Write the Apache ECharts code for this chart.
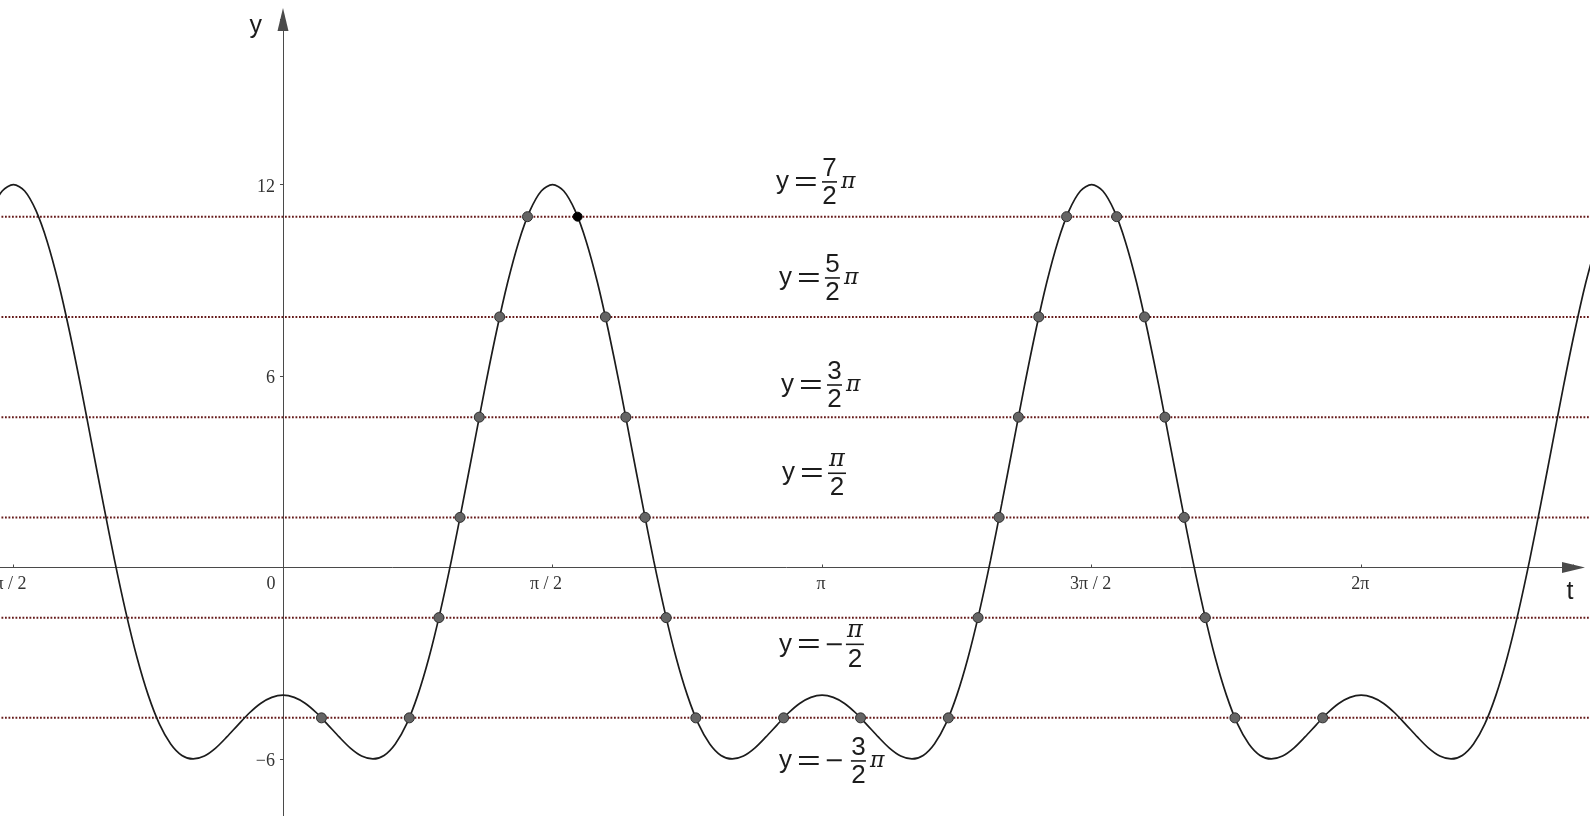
<!DOCTYPE html>
<html>
<head>
<meta charset="utf-8">
<script src="https://cdn.jsdelivr.net/npm/echarts@6/dist/echarts.min.js"></script>
<style>
html, body { margin: 0; padding: 0; background: #ffffff; }
#chart { width: 1590px; height: 816px; }
</style>
</head>
<body>
<div id="chart"></div>
<script>
// ---------- data ----------
// sampled curve (t in radians) and its values
const curveT = [
  -1.7017, -1.6362, -1.5708, -1.5053, -1.4399, -1.3744, -1.3090, -1.2435, -1.1781, -1.1126, -1.0472, -0.9817, -0.9163,
  -0.8508, -0.7854, -0.7199, -0.6545, -0.5890, -0.5236, -0.4581, -0.3927, -0.3272, -0.2618, -0.1963, -0.1309, -0.0654,
  0, 0.0654, 0.1309, 0.1963, 0.2618, 0.3272, 0.3927, 0.4581, 0.5236, 0.5890, 0.6545, 0.7199, 0.7854, 0.8508, 0.9163, 0.9817,
  1.0472, 1.1126, 1.1781, 1.2435, 1.3090, 1.3744, 1.4399, 1.5053, 1.5708, 1.6362, 1.7017, 1.7671, 1.8326, 1.8980, 1.9635, 2.0289,
  2.0944, 2.1598, 2.2253, 2.2907, 2.3562, 2.4216, 2.4871, 2.5525, 2.6180, 2.6834, 2.7489, 2.8143, 2.8798, 2.9452, 3.0107, 3.0761,
  3.1416, 3.2070, 3.2725, 3.3379, 3.4034, 3.4688, 3.5343, 3.5997, 3.6652, 3.7306, 3.7961, 3.8615, 3.9270, 3.9924, 4.0579, 4.1233,
  4.1888, 4.2542, 4.3197, 4.3851, 4.4506, 4.5160, 4.5815, 4.6469, 4.7124, 4.7778, 4.8433, 4.9087, 4.9742, 5.0396, 5.1051, 5.1705,
  5.2360, 5.3014, 5.3669, 5.4323, 5.4978, 5.5632, 5.6287, 5.6941, 5.7596, 5.8250, 5.8905, 5.9559, 6.0214, 6.0868, 6.1523, 6.2177,
  6.2832, 6.3486, 6.4141, 6.4795, 6.5450, 6.6104, 6.6759, 6.7413, 6.8068, 6.8722, 6.9377, 7.0031, 7.0686, 7.1340, 7.1995, 7.2649,
  7.3304, 7.3958, 7.4613, 7.5267, 7.5922, 7.6576
];
const curveY = [
  11.19, 11.80, 12, 11.80, 11.19, 10.22, 8.93, 7.38, 5.66, 3.83, 2, 0.23, -1.39,
  -2.82, -4, -4.91, -5.53, -5.89, -6, -5.91, -5.66, -5.31, -4.93, -4.56, -4.26, -4.07,
  -4, -4.07, -4.26, -4.56, -4.93, -5.31, -5.66, -5.91, -6, -5.89, -5.53, -4.91, -4, -2.82, -1.39, 0.23,
  2, 3.83, 5.66, 7.38, 8.93, 10.22, 11.19, 11.80, 12, 11.80, 11.19, 10.22, 8.93, 7.38, 5.66, 3.83,
  2, 0.23, -1.39, -2.82, -4, -4.91, -5.53, -5.89, -6, -5.91, -5.66, -5.31, -4.93, -4.56, -4.26, -4.07,
  -4, -4.07, -4.26, -4.56, -4.93, -5.31, -5.66, -5.91, -6, -5.89, -5.53, -4.91, -4, -2.82, -1.39, 0.23,
  2, 3.83, 5.66, 7.38, 8.93, 10.22, 11.19, 11.80, 12, 11.80, 11.19, 10.22, 8.93, 7.38, 5.66, 3.83,
  2, 0.23, -1.39, -2.82, -4, -4.91, -5.53, -5.89, -6, -5.91, -5.66, -5.31, -4.93, -4.56, -4.26, -4.07,
  -4, -4.07, -4.26, -4.56, -4.93, -5.31, -5.66, -5.91, -6, -5.89, -5.53, -4.91, -4, -2.82, -1.39, 0.23,
  2, 3.83, 5.66, 7.38, 8.93, 10.22
];
// horizontal dotted lines y = 7π/2, 5π/2, 3π/2, π/2, -π/2, -3π/2
const levels = [10.9956, 7.8540, 4.7124, 1.5708, -1.5708, -4.7124];
const levelSpanT = [-1.7017, 7.7231];
// marked intersection points (t values) on each level
const crossingsT = [
  [1.4248, 4.5664, 4.8584],
  [1.2626, 1.8790, 4.4042, 5.0206],
  [1.1439, 1.9977, 4.2855, 5.1393],
  [1.0316, 2.1100, 4.1732, 5.2515],
  [0.9087, 2.2329, 4.0503, 5.3745],
  [0.2242, 0.7359, 2.4057, 2.9174, 3.3657, 3.8775, 5.5473, 6.0590]
];
const selectedPoint = [1.7168, 10.9956];
// equation labels
const labelSign = ['', '', '', '', '−', '−'];
const labelNum = ['7', '5', '3', 'π', 'π', '3'];
const labelDen = ['2', '2', '2', '2', '2', '2'];
const labelPi = [true, true, true, false, false, true];
const labelT = [2.873, 2.890, 2.902, 2.908, 2.890, 2.890];
const labelY = [12.085, 9.075, 5.720, 2.954, -2.408, -6.062];
// tick labels
const xTickValues = [-1.5708, 0, 1.5708, 3.1416, 4.7124, 6.2832];
const xTickTexts = ['−π / 2', '0', 'π / 2', 'π', '3π / 2', '2π'];
const yTickValues = [12, 6, -6];
const yTickTexts = ['12', '6', '−6'];

// ---------- chart ----------
const HALF_PI = Math.PI / 2;
const axisColor = '#4a4a4a';
const ink = '#1c1c1c';
const tickFont = 'Liberation Serif';
const chart = echarts.init(document.getElementById('chart'), null, { renderer: 'canvas' });

const series = [];
levels.forEach(function (lv) {
  series.push({
    type: 'line', data: [[levelSpanT[0], lv], [levelSpanT[1], lv]],
    symbol: 'none', silent: true, z: 1,
    lineStyle: { color: '#661a1a', width: 2, type: [1.8, 1.7] }
  });
});
series.push({
  type: 'line', data: curveT.map(function (t, i) { return [t, curveY[i]]; }),
  symbol: 'none', smooth: 0.3, silent: true, z: 2,
  lineStyle: { color: ink, width: 1.7 }
});
const dotData = [];
crossingsT.forEach(function (arr, i) { arr.forEach(function (t) { dotData.push([t, levels[i]]); }); });
series.push({
  type: 'scatter', data: dotData, symbol: 'circle', symbolSize: 10, z: 3, silent: true,
  itemStyle: { color: '#656565', borderColor: '#2e2e2e', borderWidth: 1, opacity: 1 }
});
series.push({
  type: 'scatter', data: [selectedPoint], symbol: 'circle', symbolSize: 9, z: 4, silent: true,
  itemStyle: { color: '#000000', borderColor: '#000000', borderWidth: 1, opacity: 1 }
});
// equation labels "y = a/b π"
series.push({
  type: 'custom', z: 5, silent: true,
  data: labelT.map(function (t, i) { return [t, labelY[i], i]; }),
  renderItem: function (params, api) {
    const i = api.value(2);
    const p = api.coord([api.value(0), api.value(1)]);
    const x0 = p[0], yb = p[1];
    const neg = labelSign[i] !== '';
    const piNum = labelNum[i] === 'π';
    const barStart = x0 + (neg ? (piNum ? 67 : 72) : 46);
    const barW = piNum ? 18 : 15;
    const cx = barStart + barW / 2;
    const children = [
      { type: 'text', x: x0, y: yb, style: { text: 'y', fill: ink, fontSize: 26, fontFamily: 'Liberation Sans', align: 'left', verticalAlign: 'middle' } },
      { type: 'text', x: x0 + 18, y: yb + 1, scaleX: 1.45, style: { text: '=', fill: ink, fontSize: 28, fontFamily: 'Liberation Sans', align: 'left', verticalAlign: 'middle' } },
      { type: 'line', shape: { x1: barStart, y1: yb, x2: barStart + barW, y2: yb }, style: { stroke: ink, lineWidth: 1.6 } },
      { type: 'text', x: cx, y: yb + 15, style: { text: labelDen[i], fill: ink, fontSize: 26, fontFamily: 'Liberation Sans', align: 'center', verticalAlign: 'middle' } }
    ];
    if (neg) {
      children.push({ type: 'text', x: x0 + 45, y: yb + 1, style: { text: labelSign[i], fill: ink, fontSize: 24, fontFamily: 'DejaVu Sans', align: 'left', verticalAlign: 'middle' } });
    }
    if (piNum) {
      children.push({ type: 'text', x: cx, y: yb - 13.5, style: { text: 'π', fill: ink, fontSize: 24, fontStyle: 'italic', fontFamily: 'DejaVu Serif', align: 'center', verticalAlign: 'middle' } });
    } else {
      children.push({ type: 'text', x: cx, y: yb - 13, style: { text: labelNum[i], fill: ink, fontSize: 26, fontFamily: 'Liberation Sans', align: 'center', verticalAlign: 'middle' } });
    }
    if (labelPi[i]) {
      children.push({ type: 'text', x: barStart + barW + 4, y: yb + 0.5, style: { text: 'π', fill: ink, fontSize: 22, fontStyle: 'italic', fontFamily: 'DejaVu Serif', align: 'left', verticalAlign: 'middle' } });
    }
    return { type: 'group', children: children };
  }
});
// x tick labels
series.push({
  type: 'custom', z: 6, silent: true,
  data: xTickValues.map(function (v, i) { return [v, 0, i]; }),
  renderItem: function (params, api) {
    const i = api.value(2);
    const p = api.coord([api.value(0), api.value(1)]);
    const k = Math.round(api.value(0) / HALF_PI);
    const dx = k === 0 ? -12 : (k === 1 ? -6.5 : (k === -1 ? -8 : -1));
    return { type: 'text', x: p[0] + dx, y: p[1] + 8, style: { text: xTickTexts[i], fill: '#333333', fontSize: 18, fontFamily: tickFont, align: 'center', verticalAlign: 'top' } };
  }
});
// y tick labels
series.push({
  type: 'custom', z: 6, silent: true,
  data: yTickValues.map(function (v, i) { return [0, v, i]; }),
  renderItem: function (params, api) {
    const i = api.value(2);
    const p = api.coord([api.value(0), api.value(1)]);
    return { type: 'text', x: p[0] - 8, y: p[1] + 2.5, style: { text: yTickTexts[i], fill: '#333333', fontSize: 18, fontFamily: tickFont, align: 'right', verticalAlign: 'middle' } };
  }
});

const option = {
  animation: false,
  backgroundColor: '#ffffff',
  grid: [
    { left: -256.1, right: 0, top: 19.5, bottom: -134.4, containLabel: false, outerBoundsMode: 'none' },
    { left: -256.1, right: 16.5, top: 19.5, bottom: -134.4, containLabel: false, outerBoundsMode: 'none' }
  ],
  xAxis: [
    { gridIndex: 0, type: 'value', min: -Math.PI, max: 7.6166, interval: HALF_PI, show: false },
    {
      gridIndex: 1, type: 'value', min: -Math.PI, max: 7.5204, interval: HALF_PI,
      splitLine: { show: false },
      axisLine: { show: true, onZero: true, symbol: ['none', 'triangle'], symbolSize: [11, 23], lineStyle: { color: axisColor, width: 1 } },
      axisTick: { show: true, inside: true, length: 3, lineStyle: { color: axisColor } },
      axisLabel: { show: false },
      name: 't', nameLocation: 'end', nameGap: -3.5, nameMoveOverlap: false,
      nameTextStyle: { fontFamily: 'Liberation Sans', fontSize: 25, color: ink, align: 'center', verticalAlign: 'top', padding: [12, 0, 0, 0] }
    }
  ],
  yAxis: [
    { gridIndex: 0, type: 'value', min: -12, max: 17.175, interval: 6, show: false },
    {
      gridIndex: 1, type: 'value', min: -12, max: 17.175, interval: 6,
      splitLine: { show: false },
      axisLine: { show: true, onZero: true, symbol: ['none', 'triangle'], symbolSize: [11, 23], lineStyle: { color: axisColor, width: 1 } },
      axisTick: { show: true, inside: false, length: 3, lineStyle: { color: axisColor } },
      axisLabel: { show: false },
      name: 'y', nameLocation: 'end', nameGap: -7, nameMoveOverlap: false,
      nameTextStyle: { fontFamily: 'Liberation Sans', fontSize: 25, color: ink, align: 'right', verticalAlign: 'middle', padding: [0, 21, 0, 0] }
    }
  ],
  series: series
};
chart.setOption(option);
</script>
</body>
</html>
